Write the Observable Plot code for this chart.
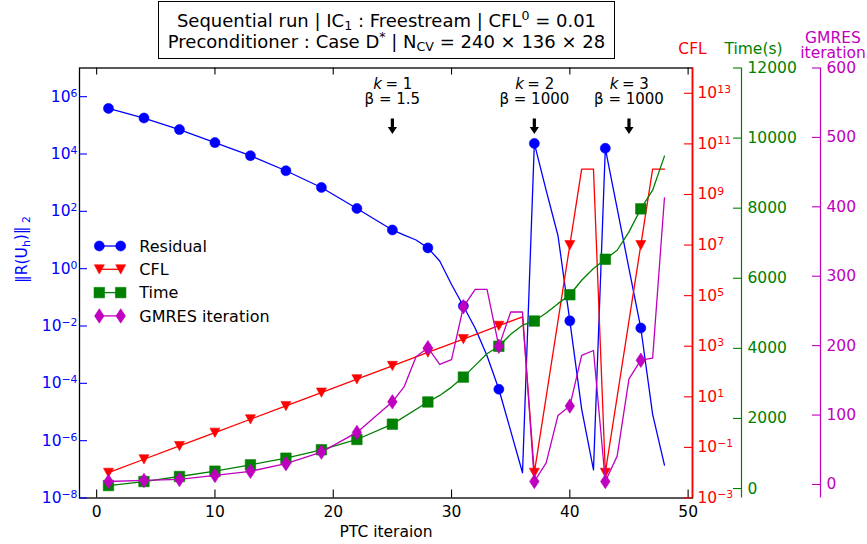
<!DOCTYPE html>
<html><head><meta charset="utf-8">
<script src="https://cdn.jsdelivr.net/npm/d3@7"></script>
<script src="https://cdn.jsdelivr.net/npm/@observablehq/plot@0.6"></script>
<style>
html,body{margin:0;padding:0;background:#fff;}
#chart{position:relative;width:867px;height:544px;font-family:"DejaVu Sans",sans-serif;}
#chart svg{position:absolute;left:0;top:0;}
#title{position:absolute;left:158px;top:1px;width:457px;height:58px;box-sizing:border-box;border:1.3px solid #000;text-align:center;font-size:18px;line-height:21px;padding-top:7.7px;color:#000;white-space:nowrap;z-index:5;background:#fff;}
.sb{font-size:70%;position:relative;top:0.3em;line-height:0;}
.sp{font-size:70%;position:relative;top:-0.5em;line-height:0;}
</style></head>
<body>
<div id="chart">
  <div id="title">Sequential run | IC<span class="sb">1</span> : Freestream | CFL<span class="sp">0</span> = 0.01<br>Preconditioner : Case D<span class="sp">*</span> | N<span class="sb">CV</span> = 240 × 136 × 28</div>
</div>
<script>
// ---------------- data ----------------
const xTicks = [0, 10, 20, 30, 40, 50];

const residualIter  = [1,4,7,10,13,16,19,22,25,26,27,28,29,30,31,32,33,34,35,36,37,38,39,40,41,42,43,44,45,46,47,48];
const residualValue = [3.9e5,1.8e5,7.1e4,2.5e4,8.7e3,2.6e3,680,126,22.4,14.8,10,5.3,1.86,0.28,0.050,8.3e-3,9.1e-4,6.2e-5,2.2e-6,7.6e-8,2.34e4,540,14.1,0.0151,1.26e-5,9.5e-8,1.58e4,126,1.0,8.5e-3,8.3e-6,1.41e-7];

const cflIter  = [1,4,7,10,13,16,19,22,25,28,31,34,36,37,38,39,40,41,42,43,44,45,46,47,48];
const cflValue = [0.01,0.034,0.114,0.384,1.30,4.38,14.8,49.9,168,568,1920,6470,14600,0.01,10,1e4,1e7,1e10,1e10,0.01,10,1e4,1e7,1e10,1e10];

const timeIter  = [1,4,7,10,13,16,19,22,25,28,29,30,31,32,33,34,35,36,37,38,39,40,41,42,43,44,45,46,47,48];
const timeValue = [86,200,343,495,676,866,1106,1400,1837,2470,2657,2894,3180,3514,3848,4060,4400,4660,4780,5009,5276,5530,5943,6277,6543,6800,7323,7980,8514,9486];

const gmresIter  = [1,4,7,10,13,16,19,22,25,26,27,28,29,30,31,32,33,34,35,36,37,38,39,40,41,42,43,44,45,46,47,48];
const gmresValue = [4.3,5.8,7.2,13,19,30,46.6,75,119,141,184,197,173,180,256,281,281,199,248.5,248.5,4.3,31,99.5,113,186,193,4.3,40.8,152,179,182,413];

const blueTicks  = [1e-8,1e-6,1e-4,1e-2,1,1e2,1e4,1e6];
const blueLabels = ["10⁻⁸","10⁻⁶","10⁻⁴","10⁻²","10⁰","10²","10⁴","10⁶"];
const redTicks   = [1e-3,1e-1,1e1,1e3,1e5,1e7,1e9,1e11,1e13];
const redLabels  = ["10⁻³","10⁻¹","10¹","10³","10⁵","10⁷","10⁹","10¹¹","10¹³"];
const greenTicks = [0,2000,4000,6000,8000,10000,12000];
const magTicks   = [0,100,200,300,400,500,600];

const annoX    = [25, 37, 45];
const annoK    = ["1", "2", "3"];
const annoBeta = ["1.5", "1000", "1000"];

const legendLabels = ["Residual", "CFL", "Time", "GMRES iteration"];
const yLabel = "‖R(Uh)‖2";

// ---------------- styling ----------------
const BLUE = "#0000ff", RED = "#ff0000", GREEN = "#008000", MAG = "#bf00bf";
const W = 867, H = 544;
const M = {top: 67.5, right: 175, bottom: 46.5, left: 79};
const FW = W - M.left - M.right, FH = H - M.top - M.bottom;
const xDomain = [-1.45, 50.37];
const FONT = "DejaVu Sans";

const rOf = s => Math.sqrt(s / Math.PI);
const symTriDown = {draw(c, s){const r = rOf(s); c.moveTo(-r,-0.9*r); c.lineTo(r,-0.9*r); c.lineTo(0,0.95*r); c.closePath();}};
const symSquare  = {draw(c, s){const r = rOf(s)*1.05; c.moveTo(-r,-r); c.lineTo(r,-r); c.lineTo(r,r); c.lineTo(-r,r); c.closePath();}};
const symThinDia = {draw(c, s){const r = rOf(s); c.moveTo(0,-1.45*r); c.lineTo(0.95*r,0); c.lineTo(0,1.45*r); c.lineTo(-0.95*r,0); c.closePath();}};
const blockArrow = {draw(c, l){const hw=1.6, hh=4.6, hl=7; c.moveTo(-hw,0); c.lineTo(-hw,-l+hl); c.lineTo(-hh,-l+hl); c.lineTo(0,-l); c.lineTo(hh,-l+hl); c.lineTo(hw,-l+hl); c.lineTo(hw,0); c.closePath();}};

const rows = (it, v) => it.map((n, i) => ({n, v: v[i]}));
const residual = rows(residualIter, residualValue);
const cfl = rows(cflIter, cflValue);
const time = rows(timeIter, timeValue);
const gmres = rows(gmresIter, gmresValue);
const annotations = annoX.map((x, i) => ({x, k: annoK[i], beta: annoBeta[i]}));
const isMarker = d => (d.n - 1) % 3 === 0;

const common = {
  width: W, height: H,
  marginTop: M.top, marginRight: M.right, marginBottom: M.bottom, marginLeft: M.left,
  style: {background: "transparent", fontFamily: FONT, fontSize: "15.5px", overflow: "visible"}
};

function seriesMarks(data, color, symbol, r) {
  return [
    Plot.line(data, {x: "n", y: "v", stroke: color, strokeWidth: 1.3}),
    Plot.dot(data, {x: "n", y: "v", filter: isMarker, symbol, r, fill: color, stroke: color, strokeWidth: 0.6})
  ];
}

const base = Plot.plot({
  ...common,
  x: {domain: xDomain},
  y: {type: "log", domain: [1e-8, 1e7]},
  marks: [
    Plot.frame({stroke: "black", strokeWidth: 1.3}),
    Plot.tickX(xTicks, {x: d => d, stroke: "black", strokeWidth: 1.1, insetTop: FH - 8}),
    Plot.tickX(xTicks, {x: d => d, stroke: "black", strokeWidth: 1.1, insetBottom: FH - 7}),
    Plot.axisX({ticks: xTicks, tickSize: 0, tickPadding: 7.5, tickFormat: d => String(d), fontSize: 15.5, label: null}),
    Plot.tickY(blueTicks, {y: d => d, stroke: BLUE, strokeWidth: 1.1, insetRight: FW - 8}),
    Plot.axisY({anchor: "left", ticks: blueTicks, tickSize: 0, tickPadding: 2, tickFormat: d => blueLabels[blueTicks.indexOf(d)], color: BLUE, fontSize: 15.5, label: null}),
    ...seriesMarks(residual, BLUE, "circle", 5),
    Plot.text(annotations, {x: "x", text: d => "k", frameAnchor: "top", lineAnchor: "middle", dy: 16.5, dx: -10.5, textAnchor: "end", fontStyle: "italic", fontSize: 15, fill: "black"}),
    Plot.text(annotations, {x: "x", text: d => "= " + d.k, frameAnchor: "top", lineAnchor: "middle", dy: 16.5, dx: -7, textAnchor: "start", fontSize: 15, fill: "black"}),
    Plot.text(annotations, {x: "x", text: d => "β = " + d.beta, frameAnchor: "top", lineAnchor: "middle", dy: 31.5, fontSize: 15, fill: "black"}),
    Plot.vector(annotations, {x: "x", frameAnchor: "top", dy: 50.5, length: 15.5, rotate: 180, anchor: "start", shape: blockArrow, fill: "black", stroke: "none"}),
    Plot.text(["PTC iteraion"], {text: d => d, frameAnchor: "bottom", lineAnchor: "middle", dy: 34, fontSize: 15.5, fill: "black"}),
    Plot.text([yLabel], {text: d => d, frameAnchor: "left", lineAnchor: "middle", rotate: -90, dx: -57, fontSize: 15.5, fill: BLUE})
  ]
});

const redPlot = Plot.plot({
  ...common,
  x: {domain: xDomain, axis: null},
  y: {type: "log", domain: [1e-3, 1e14]},
  marks: [
    Plot.ruleX([xDomain[1]], {x: d => d, stroke: RED, strokeWidth: 1.6}),
    Plot.tickY(redTicks, {y: d => d, stroke: RED, strokeWidth: 1.1, insetLeft: FW - 8}),
    Plot.axisY({anchor: "right", ticks: redTicks, tickSize: 0, tickPadding: 5, tickFormat: d => redLabels[redTicks.indexOf(d)], color: RED, fontSize: 15.5, label: null}),
    ...seriesMarks(cfl, RED, symTriDown, 5),
    Plot.text(["CFL"], {text: d => d, frameAnchor: "top-right", lineAnchor: "middle", dy: -18.5, textAnchor: "middle", fontSize: 15.5, fill: RED})
  ]
});

const greenPlot = Plot.plot({
  ...common,
  x: {domain: xDomain, axis: null},
  y: {domain: [-270, 12000]},
  marks: [
    Plot.ruleX([xDomain[1]], {x: d => d, dx: 49, stroke: GREEN, strokeWidth: 1.2}),
    Plot.tickY(greenTicks, {y: d => d, dx: 49, stroke: GREEN, strokeWidth: 1.1, insetLeft: FW - 8}),
    Plot.axisY({anchor: "right", dx: 49, ticks: greenTicks, tickSize: 0, tickPadding: 6, tickFormat: d => String(d), color: GREEN, fontSize: 15.5, label: null}),
    ...seriesMarks(time, GREEN, symSquare, 5),
    Plot.text(["Time(s)"], {text: d => d, frameAnchor: "top-right", lineAnchor: "middle", dx: 61, dy: -18.5, textAnchor: "middle", fontSize: 15.5, fill: GREEN})
  ]
});

const magPlot = Plot.plot({
  ...common,
  x: {domain: xDomain, axis: null},
  y: {domain: [-19.5, 600]},
  marks: [
    Plot.ruleX([xDomain[1]], {x: d => d, dx: 128, stroke: MAG, strokeWidth: 1.2}),
    Plot.tickY(magTicks, {y: d => d, dx: 128, stroke: MAG, strokeWidth: 1.1, insetLeft: FW - 8}),
    Plot.axisY({anchor: "right", dx: 128, ticks: magTicks, tickSize: 0, tickPadding: 6, tickFormat: d => String(d), color: MAG, fontSize: 15.5, label: null}),
    ...seriesMarks(gmres, MAG, symThinDia, 5),
    Plot.text(["GMRES\niteration"], {text: d => d, frameAnchor: "top-right", lineAnchor: "middle", dx: 140.5, dy: -22, lineHeight: 0.95, textAnchor: "middle", fontSize: 15.5, fill: MAG})
  ]
});

const chart = document.getElementById("chart");
for (const p of [base, redPlot, greenPlot, magPlot]) {
  p.style.position = "absolute"; p.style.left = "0px"; p.style.top = "0px";
  p.style.background = "transparent";
  chart.appendChild(p);
}

// rich text: subscripts in y label, real superscripts in power-of-ten tick labels
const supChars = "⁰¹²³⁴⁵⁶⁷⁸⁹⁻", normChars = "0123456789−";
for (const svg of [base, redPlot]) {
  d3.select(svg).selectAll("text").each(function() {
    const s = this.textContent;
    const t = d3.select(this);
    if (s === yLabel) {
      t.text("");
      t.append("tspan").text("‖R(U");
      t.append("tspan").attr("font-size", "70%").attr("dy", "0.25em").text("h");
      t.append("tspan").attr("dy", "-0.25em").text(")‖");
      t.append("tspan").attr("font-size", "70%").attr("dy", "0.3em").text(" 2");
    } else if (/^10[⁰¹²³⁴⁵⁶⁷⁸⁹⁻]+$/.test(s) && this.children.length === 0) {
      const exp = [...s.slice(2)].map(c => normChars[supChars.indexOf(c)]).join("");
      t.text("");
      t.append("tspan").text("10");
      t.append("tspan").attr("font-size", "70%").attr("dy", "-0.45em").text(exp);
    }
  });
}

// legend
const legendColors = [BLUE, RED, GREEN, MAG];
const legendSymbols = [d3.symbolCircle, symTriDown, symSquare, symThinDia];
const leg = d3.create("svg").attr("width", W).attr("height", H)
  .style("position", "absolute").style("left", "0px").style("top", "0px").style("overflow", "visible");
legendLabels.forEach((lab, i) => {
  const y = 246 + i * 23.3;
  const g = leg.append("g");
  g.append("line").attr("x1", 99.3).attr("x2", 120.7).attr("y1", y).attr("y2", y)
    .attr("stroke", legendColors[i]).attr("stroke-width", 1.3);
  for (const x of [99.3, 120.7]) {
    g.append("path").attr("d", d3.symbol(legendSymbols[i], Math.PI * 25)())
      .attr("transform", `translate(${x},${y})`).attr("fill", legendColors[i])
      .attr("stroke", legendColors[i]).attr("stroke-width", 0.6);
  }
  g.append("text").attr("x", 139.3).attr("y", y + 5.8).attr("font-family", FONT)
    .attr("font-size", 16).attr("fill", "black").text(lab);
});
chart.appendChild(leg.node());
</script>
</body></html>
